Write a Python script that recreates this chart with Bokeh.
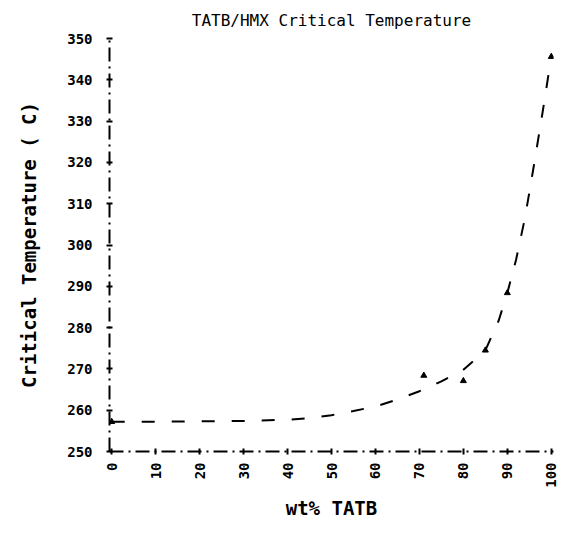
import math
from bokeh.plotting import figure
from bokeh.models import Range1d, FixedTicker
from bokeh.embed import file_html
from bokeh.resources import INLINE

# ---- data ----
x_ticks = [0, 10, 20, 30, 40, 50, 60, 70, 80, 90, 100]
y_ticks = [250, 260, 270, 280, 290, 300, 310, 320, 330, 340, 350]

# fitted curve (dashed)
curve_wt = [0, 10, 20, 30, 40, 45, 50, 55, 60, 65, 70, 75, 80, 85, 88, 90, 92, 94, 96, 98, 100]
curve_tc = [257.2, 257.2, 257.3, 257.4, 257.7, 258.1, 258.8, 259.8, 260.9, 262.6, 264.6,
            267.0, 269.8, 274.5, 281.6, 288.4, 296.5, 306.5, 319.0, 332.0, 345.6]

# measured points
meas_wt = [0, 71, 80, 85, 90, 100]
meas_tc = [257.2, 268.4, 267.1, 274.5, 288.4, 345.6]

FONT = "DejaVu Sans Mono"

p = figure(width=559, height=521, output_backend="svg", toolbar_location=None,
           x_range=Range1d(-0.5, 100.5), y_range=Range1d(250, 350),
           min_border_left=109, min_border_right=6, min_border_top=38,
           min_border_bottom=65)

p.title.text = "TATB/HMX Critical Temperature"
p.title.align = "center"
p.title.text_font = FONT
p.title.text_font_size = "16px"
p.title.text_font_style = "normal"
p.title.text_color = "black"
p.title.standoff = 17

p.grid.visible = False
p.outline_line_color = None
p.background_fill_color = "white"
p.border_fill_color = "white"

for ax, ticks in ((p.xaxis, x_ticks), (p.yaxis, y_ticks)):
    ax.ticker = FixedTicker(ticks=ticks)
    ax.axis_line_color = "black"
    ax.axis_line_width = 2
    ax.axis_line_dash = "14 5 2 5"
    ax.major_tick_line_color = "black"
    ax.major_tick_line_width = 2
    ax.major_tick_in = 3
    ax.major_tick_out = 3
    ax.minor_tick_line_color = None
    ax.major_label_text_font = FONT
    ax.major_label_text_font_size = "14px"
    ax.major_label_text_font_style = "bold"
    ax.major_label_text_color = "black"
    ax.axis_label_text_font = FONT
    ax.axis_label_text_font_style = "bold"
    ax.axis_label_text_color = "black"

p.xaxis.major_label_orientation = math.pi / 2
p.xaxis.major_label_standoff = 8
p.xaxis.axis_label = "wt% TATB"
p.xaxis.axis_label_text_font_size = "19px"
p.xaxis.axis_label_standoff = 6

p.yaxis.major_label_standoff = 14
p.yaxis.axis_label = "Critical Temperature ( C)"
p.yaxis.axis_label_text_font_size = "19px"
p.yaxis.axis_label_standoff = 24

p.line(curve_wt, curve_tc, line_color="black", line_width=2, line_dash="13 17")
p.scatter(meas_wt, meas_tc, marker="triangle", size=6, fill_color="black",
          line_color="black")

open("out.html", "w").write(file_html(p, INLINE))
